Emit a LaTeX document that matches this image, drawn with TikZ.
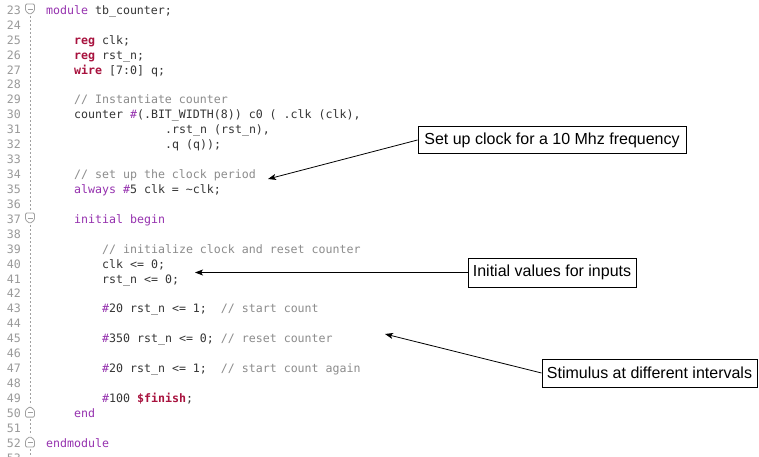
\documentclass[tikz,border=0pt]{standalone}
\usepackage{fontspec}
\usetikzlibrary{arrows.meta}
\newfontfamily\codefont{DejaVu Sans Mono}
\newfontfamily\notefont{Liberation Sans}
\definecolor{codefg}{HTML}{353535}
\definecolor{numgray}{HTML}{9A9A9A}
\definecolor{cmgray}{HTML}{8C8C8C}
\definecolor{kwpurple}{HTML}{9632AF}
\definecolor{regred}{HTML}{A8123E}
\definecolor{foldgray}{HTML}{A0A0A0}
\newcommand{\vkw}[1]{\textcolor{kwpurple}{#1}}
\newcommand{\vreg}[1]{\textcolor{regred}{\bfseries #1}}
\newcommand{\vcom}[1]{\textcolor{cmgray}{#1}}
\newcommand{\codeline}[3]{\node[codetext] (l#1) at (#2,{14.3+(#1-23)*14.93}) {#3};}
\newcommand{\foldbegin}[1]{%
  \draw[fold] (25.5,{#1-5}) -- (34.5,{#1-5}) -- (34.5,{#1+2}) -- (30,{#1+5.5}) -- (25.5,{#1+2}) -- cycle;
  \draw[fold] (27.5,#1) -- (32.5,#1);}
\newcommand{\foldend}[1]{%
  \draw[fold] (30,{#1-5.5}) -- (34.5,{#1-2}) -- (34.5,{#1+5}) -- (25.5,{#1+5}) -- (25.5,{#1-2}) -- cycle;
  \draw[fold] (27.5,{#1+0.5}) -- (32.5,{#1+0.5});}
\tikzset{
  codetext/.style={anchor=base west, inner sep=0pt, font=\codefont\fontsize{11.6}{14}\selectfont, text=codefg},
  lnum/.style={anchor=base east, inner sep=0pt, font=\codefont\fontsize{11.6}{14}\selectfont, text=numgray},
  note/.style={draw=black, line width=1pt, font=\notefont\fontsize{16}{19}\selectfont, text=black, inner sep=0pt, fill=white},
  arr/.style={-{Stealth[length=8pt,width=6pt,inset=2pt]}, line width=0.8pt, draw=black},
  fold/.style={draw=foldgray, line width=0.8pt, fill=white, rounded corners=1.2pt},
  guide/.style={draw=foldgray, line width=1pt, dash pattern=on 2pt off 2pt}
}
\begin{document}
\begin{tikzpicture}[x=1pt,y=-1pt]
\useasboundingbox (0,0) rectangle (759,457);
\fill[white] (0,0) rectangle (759,457);
\begin{scope}
\clip (0,0) rectangle (759,457);
% fold guide lines
\draw[guide] (30,16) -- (30,211);
\draw[guide] (30,225) -- (30,405);
\draw[guide] (30,419) -- (30,435);
\draw[guide] (30,449) -- (30,457);
\foldbegin{9}
\foldbegin{218.02}
\foldend{412.11}
\foldend{441.97}
% line numbers
\foreach \i in {23,...,53} {
  \node[lnum] (n\i) at (21,{14.3+(\i-23)*14.93}) {\i};
}
% code
\codeline{23}{46}{\vkw{module} tb\_counter;}
\codeline{25}{74}{\vreg{reg} clk;}
\codeline{26}{74}{\vreg{reg} rst\_n;}
\codeline{27}{74}{\vreg{wire} [7:0] q;}
\codeline{29}{74}{\vcom{// Instantiate counter}}
\codeline{30}{74}{counter \vkw{\#}(.BIT\_WIDTH(8)) c0 ( .clk (clk),}
\codeline{31}{165}{.rst\_n (rst\_n),}
\codeline{32}{165}{.q (q));}
\codeline{34}{74}{\vcom{// set up the clock period}}
\codeline{35}{74}{\vkw{always} \vkw{\#}5 clk = \textasciitilde clk;}
\codeline{37}{74}{\vkw{initial} \vkw{begin}}
\codeline{39}{102}{\vcom{// initialize clock and reset counter}}
\codeline{40}{102}{clk <= 0;}
\codeline{41}{102}{rst\_n <= 0;}
\codeline{43}{102}{\vkw{\#}20 rst\_n <= 1;~~\vcom{// start count}}
\codeline{45}{102}{\vkw{\#}350 rst\_n <= 0; \vcom{// reset counter}}
\codeline{47}{102}{\vkw{\#}20 rst\_n <= 1;~~\vcom{// start count again}}
\codeline{49}{102}{\vkw{\#}100 \vreg{\$finish};}
\codeline{50}{74}{\vkw{end}}
\codeline{52}{46}{\vkw{endmodule}}
\end{scope}
% annotation boxes
\node[note, minimum width=268pt, minimum height=27pt] (b1) at (552,140) {Set up clock for a 10 Mhz frequency};
\node[note, minimum width=168pt, minimum height=29pt] (b2) at (552,272.5) {Initial values for inputs};
\node[note, minimum width=215pt, minimum height=28pt] (b3) at (649.5,373) {Stimulus at different intervals};
\coordinate (t1) at (268,179);
\coordinate (t2) at (195,272.5);
\coordinate (t3) at (385,334);
\draw[arr] (b1.west) -- (t1);
\draw[arr] (b2.west) -- (t2);
\draw[arr] (b3.west) -- (t3);
\end{tikzpicture}
\end{document}
